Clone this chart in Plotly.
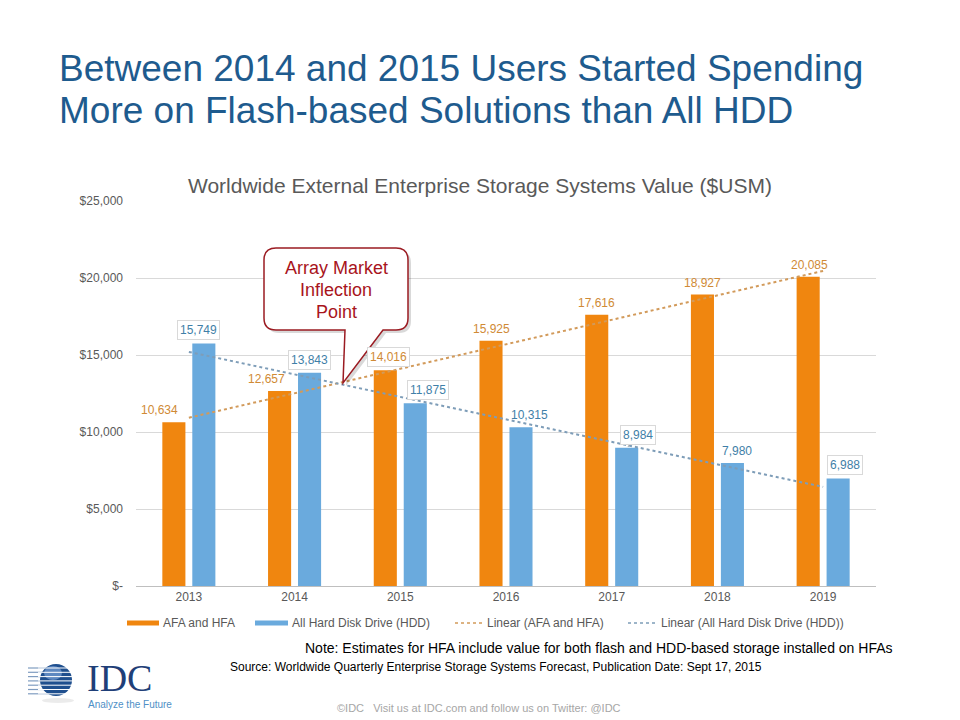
import numpy as np
import plotly.graph_objects as go

# ---------------- data ----------------
years = ["2013", "2014", "2015", "2016", "2017", "2018", "2019"]
afa_hfa = [10634, 12657, 14016, 15925, 17616, 18927, 20085]
all_hdd = [15749, 13843, 11875, 10315, 8984, 7980, 6988]
series_names = ["AFA and HFA", "All Hard Disk Drive (HDD)"]
trend_names = ["Linear (AFA and HFA)", "Linear (All Hard Disk Drive (HDD))"]
ytick_vals = [0, 5000, 10000, 15000, 20000, 25000]
ytick_text = ["$-", "$5,000", "$10,000", "$15,000", "$20,000", "$25,000"]

# label styling (offsets in px, whether the label has a box)
afa_label_dx = [-14, -13, 3, 0, 0, 0, 1]
hdd_label_dx = [-5, 0, 13, 8, 11, 5, 7]
afa_label_box = [False, False, True, False, False, False, False]
hdd_label_box = [True, True, True, False, True, False, True]

# ---------------- style ----------------
W, H = 960, 720
PL, PR, PT, PB = 136, 876, 201, 586  # plot area in pixels
ORANGE = "#F0860F"
BLUE = "#6AAADD"
ORANGE_TXT = "#D08A35"
BLUE_TXT = "#3F7FA8"
ORANGE_TREND = "#D29A5A"
BLUE_TREND = "#7E9DB8"
GRAY_TXT = "#595959"
FONT = "Arial, Liberation Sans, sans-serif"
NARROW = "Liberation Sans Narrow, Arial Narrow, " + FONT


def px(x):
    return (x - PL) / (PR - PL)


def py(y):
    return (PB - y) / (PB - PT)


idx = np.arange(len(years))
afa_trend = np.polyval(np.polyfit(idx, afa_hfa, 1), idx)
hdd_trend = np.polyval(np.polyfit(idx, all_hdd, 1), idx)

fig = go.Figure()
fig.add_trace(go.Bar(x=years, y=afa_hfa, name=series_names[0],
                     marker=dict(color=ORANGE, line=dict(width=0))))
fig.add_trace(go.Bar(x=years, y=all_hdd, name=series_names[1],
                     marker=dict(color=BLUE, line=dict(width=0))))
fig.add_trace(go.Scatter(x=years, y=afa_trend, mode="lines", name=trend_names[0],
                         line=dict(color=ORANGE_TREND, width=2, dash="dot")))
fig.add_trace(go.Scatter(x=years, y=hdd_trend, mode="lines", name=trend_names[1],
                         line=dict(color=BLUE_TREND, width=2, dash="dot")))

annotations = []
# data labels (x given as category index)
for i in range(len(years)):
    annotations.append(dict(
        x=i, y=afa_hfa[i], xref="x", yref="y", text=f"{afa_hfa[i]:,}",
        showarrow=False, xshift=-15 + afa_label_dx[i], yshift=3, yanchor="bottom",
        font=dict(family=FONT, size=12, color=ORANGE_TXT),
        bgcolor="white" if afa_label_box[i] else None,
        bordercolor="#D9D9D9" if afa_label_box[i] else None,
        borderwidth=1 if afa_label_box[i] else 0, borderpad=2))
    annotations.append(dict(
        x=i, y=all_hdd[i], xref="x", yref="y", text=f"{all_hdd[i]:,}",
        showarrow=False, xshift=15 + hdd_label_dx[i], yshift=3, yanchor="bottom",
        font=dict(family=FONT, size=12, color=BLUE_TXT),
        bgcolor="white" if hdd_label_box[i] else None,
        bordercolor="#D9D9D9" if hdd_label_box[i] else None,
        borderwidth=1 if hdd_label_box[i] else 0, borderpad=2))


def txt(x, y, text, size, color, anchor="left", family=FONT):
    annotations.append(dict(x=px(x), y=py(y), xref="paper", yref="paper", text=text,
                            showarrow=False, xanchor=anchor, yanchor="middle",
                            font=dict(family=family, size=size, color=color)))


# slide title
txt(57, 68, "Between 2014 and 2015 Users Started Spending", 37, "#1E5B8E")
txt(57, 111, "More on Flash-based Solutions than All HDD", 37, "#1E5B8E")
# chart title
txt(480, 185, "Worldwide External Enterprise Storage Systems Value ($USM)", 21, GRAY_TXT, "center")
# callout text
txt(336, 268, "Array Market", 18, "#A8141C", "center")
txt(336, 290, "Inflection", 18, "#A8141C", "center")
txt(336, 312, "Point", 18, "#A8141C", "center")
# note / source / footer
txt(895, 648, "Note: Estimates for HFA include value for both flash and HDD-based storage installed on HFAs",
    14, "black", "right")
txt(228, 667, "Source: Worldwide Quarterly Enterprise Storage Systems Forecast, Publication Date: Sept 17, 2015",
    12, "black", "left", NARROW)
txt(479, 708, "©IDC   Visit us at IDC.com and follow us on Twitter: @IDC", 11, "#A6A6A6", "center", NARROW)
# logo text
txt(85, 678, "IDC", 38, "#1F3F78", "left", "Liberation Serif, DejaVu Serif, serif")
txt(86, 704, "Analyze the Future", 10, "#4F8FC6")

shapes = []

# custom legend
LEG_Y = 623
legend_items = [
    ("bar", ORANGE, 127, 159, series_names[0]),
    ("bar", BLUE, 255, 288, series_names[1]),
    ("dot", ORANGE_TREND, 455, 483, trend_names[0]),
    ("dot", BLUE_TREND, 628, 657, trend_names[1]),
]
for kind, color, x0, x1, label in legend_items:
    if kind == "bar":
        shapes.append(dict(type="rect", xref="paper", yref="paper",
                           x0=px(x0), x1=px(x1), y0=py(LEG_Y - 2.5), y1=py(LEG_Y + 2.5),
                           fillcolor=color, line=dict(width=0)))
    else:
        shapes.append(dict(type="line", xref="paper", yref="paper",
                           x0=px(x0), x1=px(x1), y0=py(LEG_Y), y1=py(LEG_Y),
                           line=dict(color=color, width=1.5, dash="dot")))
    txt(x1 + 2, LEG_Y, label, 12, GRAY_TXT)


def callout_path(dx=0.0, dy=0.0):
    L, R, T, B, r = 264 + dx, 408 + dx, 248 + dy, 330 + dy, 12
    t1, tip, t2 = (383 + dx, B), (343 + dx, 383 + dy), (345 + dx, B)
    pts = [
        f"M{px(L + r)},{py(T)}",
        f"L{px(R - r)},{py(T)}",
        f"Q{px(R)},{py(T)} {px(R)},{py(T + r)}",
        f"L{px(R)},{py(B - r)}",
        f"Q{px(R)},{py(B)} {px(R - r)},{py(B)}",
        f"L{px(t1[0])},{py(t1[1])}",
        f"L{px(tip[0])},{py(tip[1])}",
        f"L{px(t2[0])},{py(t2[1])}",
        f"L{px(L + r)},{py(B)}",
        f"Q{px(L)},{py(B)} {px(L)},{py(B - r)}",
        f"L{px(L)},{py(T + r)}",
        f"Q{px(L)},{py(T)} {px(L + r)},{py(T)}",
        "Z",
    ]
    return " ".join(pts)


shapes.append(dict(type="path", xref="paper", yref="paper", path=callout_path(3, 3),
                   fillcolor="rgba(0,0,0,0.15)", line=dict(width=0), layer="above"))
shapes.append(dict(type="path", xref="paper", yref="paper", path=callout_path(),
                   fillcolor="white", line=dict(color="#9B1B22", width=1.5), layer="above"))

# leader line for 8,984
shapes.append(dict(type="line", xref="paper", yref="paper",
                   x0=px(633), y0=py(438), x1=px(628), y1=py(447),
                   line=dict(color="#A6A6A6", width=1)))

# logo graphics
for k in range(7):
    yy = 668 + k * 4.3
    shapes.append(dict(type="line", xref="paper", yref="paper",
                       x0=px(28), x1=px(50), y0=py(yy), y1=py(yy),
                       line=dict(color="#7F9CC0", width=1.2)))
shapes.append(dict(type="circle", xref="paper", yref="paper",
                   x0=px(40), x1=px(72), y0=py(664), y1=py(696),
                   fillcolor="#1F4F8E", line=dict(width=0)))
shapes.append(dict(type="circle", xref="paper", yref="paper",
                   x0=px(44), x1=px(62), y0=py(666), y1=py(680),
                   fillcolor="#5E88C0", line=dict(width=0)))
for k in range(7):
    yy = 668 + k * 4.3
    shapes.append(dict(type="line", xref="paper", yref="paper",
                       x0=px(38), x1=px(74), y0=py(yy), y1=py(yy),
                       line=dict(color="white", width=1)))
shapes.append(dict(type="circle", xref="paper", yref="paper",
                   x0=px(42), x1=px(74), y0=py(698), y1=py(703),
                   fillcolor="rgba(0,0,0,0.08)", line=dict(width=0)))

fig.update_layout(
    width=W, height=H,
    margin=dict(l=PL, r=W - PR, t=PT, b=H - PB, pad=0),
    paper_bgcolor="white", plot_bgcolor="white",
    barmode="group", bargap=0.433, bargroupgap=0.23,
    font=dict(family=FONT, size=12, color=GRAY_TXT),
    showlegend=False,
    annotations=annotations,
    shapes=shapes,
)
fig.update_xaxes(type="category", range=[-0.5, len(years) - 0.5], autorange=False,
                 showgrid=False, showline=True, linecolor="#BFBFBF",
                 linewidth=1, ticks="", tickfont=dict(family=FONT, size=12, color=GRAY_TXT),
                 fixedrange=True)
fig.update_yaxes(range=[0, 25000], autorange=False, tickvals=ytick_vals, ticktext=ytick_text,
                 showgrid=True, gridcolor="#D9D9D9", gridwidth=1, zeroline=False,
                 showline=False, ticks="", ticklabelstandoff=12,
                 tickfont=dict(family=FONT, size=12, color=GRAY_TXT), fixedrange=True)

fig.write_html("out.html", config={"displayModeBar": False},
               post_script="document.body.style.margin='0';")
